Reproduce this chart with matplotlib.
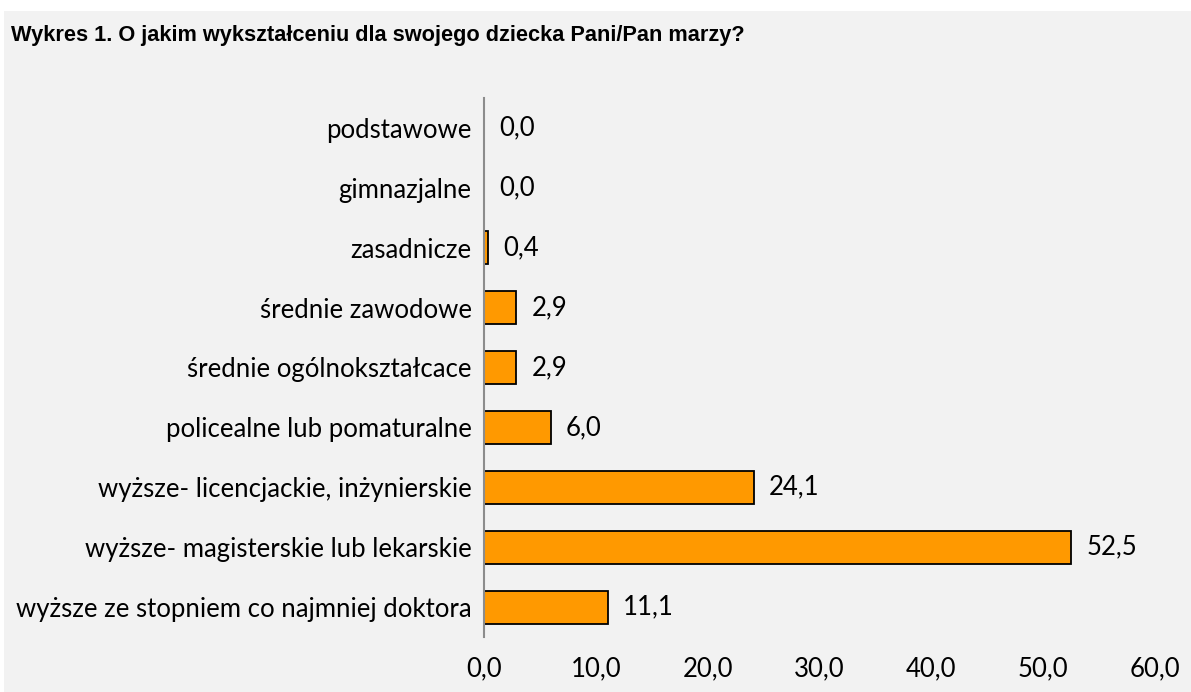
import matplotlib.pyplot as plt
from matplotlib.patches import Rectangle

# data
categories = [
    "podstawowe",
    "gimnazjalne",
    "zasadnicze",
    "średnie zawodowe",
    "średnie ogólnokształcace",
    "policealne lub pomaturalne",
    "wyższe- licencjackie, inżynierskie",
    "wyższe- magisterskie lub lekarskie",
    "wyższe ze stopniem co najmniej doktora",
]
values = [0.0, 0.0, 0.4, 2.9, 2.9, 6.0, 24.1, 52.5, 11.1]
xticks = [0, 10, 20, 30, 40, 50, 60]

W, H = 1191, 692
fig = plt.figure(figsize=(W / 100, H / 100), dpi=100)
fig.patch.set_facecolor("white")
# gray chart area (small white margin top/left like the original)
fig.patches.append(Rectangle((4 / W, 0), 1 - 4 / W, (H - 11) / H,
                             transform=fig.transFigure, facecolor="#F2F2F2",
                             edgecolor="none", zorder=-10))

ax = fig.add_axes([484 / W, 1 - 637 / H, (1155 - 484) / W, (637 - 98) / H])
ax.set_facecolor("none")
ax.set_zorder(5)

label_font = "Lato"
fs = 18.5
y = list(range(len(categories)))
ax.barh(y, values, height=0.55, color="#FF9900", edgecolor="black", linewidth=1.3)
ax.set_ylim(len(categories) - 0.5, -0.5)
ax.set_xlim(0, 60)

ax.set_yticks(y)
ax.set_yticklabels(categories, fontsize=fs, family=label_font)
ax.set_xticks(xticks)
ax.set_xticklabels([f"{v:.1f}".replace(".", ",") for v in xticks],
                   fontsize=fs, family=label_font)
ax.tick_params(axis="y", length=0, pad=9)
ax.tick_params(axis="x", length=0, pad=14)

for s in ["top", "right", "bottom"]:
    ax.spines[s].set_visible(False)
ax.spines["left"].set_color("#8C8C8C")
ax.spines["left"].set_linewidth(1.5)

for yi, v in zip(y, values):
    ax.annotate(f"{v:.1f}".replace(".", ","), (v, yi), xytext=(15, 0),
                textcoords="offset pixels", va="center", ha="left",
                fontsize=fs, family=label_font)

fig.text(11 / W, 1 - 36 / H, "Wykres 1. O jakim wykształceniu dla swojego dziecka Pani/Pan marzy?",
         fontsize=15.7, fontweight="bold", family="Liberation Sans", va="center", ha="left")

fig.savefig("out.png", dpi=100)
